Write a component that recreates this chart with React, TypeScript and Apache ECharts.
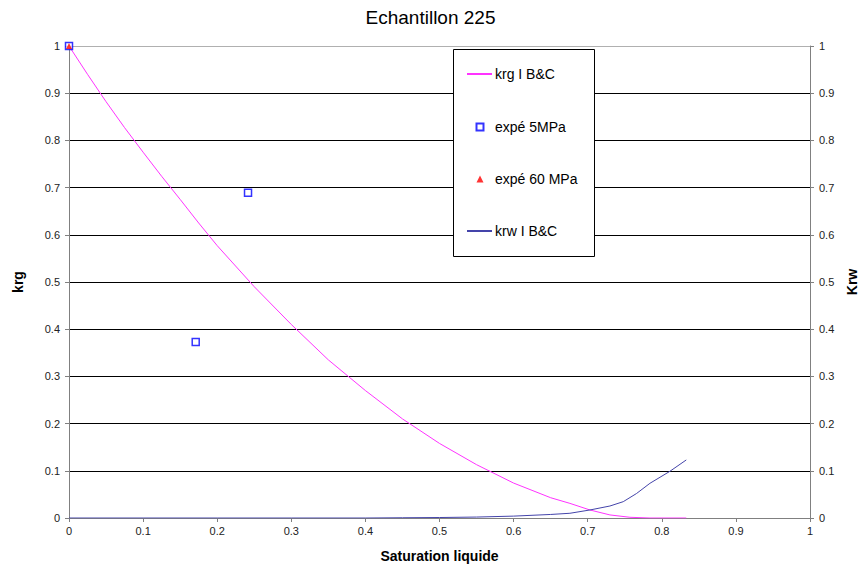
import React, { useEffect, useRef } from "react";
import * as echarts from "echarts";

const titleText = "Echantillon 225";
const xName = "Saturation liquide";
const leftName = "krg";
const rightName = "Krw";

const krgX = [0, 0.025, 0.05, 0.075, 0.1, 0.125, 0.15, 0.175, 0.2, 0.25, 0.3, 0.35, 0.4, 0.45, 0.5, 0.55, 0.6, 0.65, 0.676, 0.703, 0.73, 0.757, 0.784, 0.833];
const krgY = [1, 0.94, 0.882, 0.827, 0.775, 0.724, 0.675, 0.625, 0.577, 0.49, 0.41, 0.335, 0.27, 0.21, 0.158, 0.113, 0.074, 0.043, 0.031, 0.017, 0.0065, 0.0015, 0, 0];

const krwX = [0, 0.1, 0.2, 0.3, 0.4, 0.45, 0.5, 0.55, 0.6, 0.65, 0.676, 0.703, 0.73, 0.748, 0.766, 0.784, 0.811, 0.833];
const krwY = [0, 0, 0, 0, 0, 0.0005, 0.001, 0.002, 0.004, 0.0075, 0.01, 0.017, 0.0254, 0.0346, 0.052, 0.0735, 0.099, 0.123];

const exp5X = [0, 0.171, 0.2416];
const exp5Y = [1, 0.373, 0.689];

const exp60X = [0];
const exp60Y = [1];

const seriesNames = ["krg I B&C", "expé 5MPa", "expé 60 MPa", "krw I B&C"];

const font = "Liberation Sans, Arial, sans-serif";

const zip = (xs: number[], ys: number[]) => xs.map((x, i) => [x, ys[i]]);

export default function App() {
  const ref = useRef<HTMLDivElement>(null);
  useEffect(() => {
    if (!ref.current) return;
    const chart = echarts.init(ref.current, null, { renderer: "svg" });
    const gridColors = ["#000", "#000", "#000", "#000", "#000", "#000", "#000", "#000", "#000", "#000", "#b0b0b0"];
    const legendText = { fontFamily: font, fontSize: 14, color: "#000", lineHeight: 16 };
    chart.setOption({
      animation: false,
      backgroundColor: "#fff",
      textStyle: { fontFamily: font },
      title: {
        text: titleText,
        left: "center",
        top: 8,
        padding: 0,
        textStyle: { fontFamily: font, fontSize: 19, fontWeight: "normal", color: "#000" },
      },
      grid: { left: 69, right: 51, top: 46, bottom: 51, containLabel: false, outerBoundsMode: "none" },
      graphic: [
        {
          type: "rect",
          z: 1,
          shape: { x: 453.5, y: 49.5, width: 141, height: 207 },
          style: { fill: "#fff", stroke: "#000", lineWidth: 1 },
        },
      ],
      legend: [
        {
          orient: "vertical",
          left: 466,
          top: 66,
          padding: 0,
          itemWidth: 25,
          itemHeight: 7,
          itemGap: 141,
          z: 5,
          data: [
            { name: seriesNames[0], itemStyle: { opacity: 0 } },
            { name: seriesNames[3], itemStyle: { opacity: 0 } },
          ],
          textStyle: { ...legendText, padding: [0, 0, 0, -2] },
        },
        {
          orient: "vertical",
          left: 475.5,
          top: 119,
          padding: 0,
          itemWidth: 7,
          itemHeight: 7,
          itemGap: 36,
          z: 5,
          data: [{ name: seriesNames[1] }, { name: seriesNames[2] }],
          textStyle: { ...legendText, padding: [0, 0, 0, 6.5] },
        },
      ],
      xAxis: {
        type: "value",
        min: 0,
        max: 1,
        interval: 0.1,
        name: xName,
        nameLocation: "middle",
        nameGap: 31,
        nameTextStyle: { fontFamily: font, fontSize: 14, fontWeight: "bold", color: "#000" },
        axisLine: { onZero: false, lineStyle: { color: "#808080", width: 1 } },
        axisTick: { show: true, length: 4, lineStyle: { color: "#808080" } },
        axisLabel: { fontFamily: font, fontSize: 11, color: "#222", margin: 7 },
        splitLine: { show: false },
      },
      yAxis: [
        {
          type: "value",
          min: 0,
          max: 1,
          interval: 0.1,
          name: leftName,
          nameLocation: "middle",
          nameGap: 44,
          nameRotate: 90,
          nameTextStyle: { fontFamily: font, fontSize: 14, fontWeight: "bold", color: "#000" },
          axisLine: { show: true, lineStyle: { color: "#808080", width: 1 } },
          axisTick: { show: true, length: 4, lineStyle: { color: "#808080" } },
          axisLabel: { fontFamily: font, fontSize: 11, color: "#222", margin: 9 },
          splitLine: { show: true, lineStyle: { color: gridColors, width: 1 } },
        },
        {
          type: "value",
          min: 0,
          max: 1,
          interval: 0.1,
          position: "right",
          name: rightName,
          nameLocation: "middle",
          nameGap: 35,
          nameRotate: 90,
          nameTextStyle: { fontFamily: font, fontSize: 14, fontWeight: "bold", color: "#000" },
          axisLine: { show: true, lineStyle: { color: "#808080", width: 1 } },
          axisTick: { show: true, length: 4, lineStyle: { color: "#808080" } },
          axisLabel: { fontFamily: font, fontSize: 11, color: "#222", margin: 9 },
          splitLine: { show: false },
        },
      ],
      series: [
        {
          name: seriesNames[0],
          type: "line",
          yAxisIndex: 0,
          data: zip(krgX, krgY),
          symbol: "none",
          smooth: false,
          lineStyle: { color: "#ff33ff", width: 1 },
          itemStyle: { color: "#ff66ff" },
          z: 3,
        },
        {
          name: seriesNames[1],
          type: "scatter",
          yAxisIndex: 0,
          data: zip(exp5X, exp5Y),
          symbol: "rect",
          symbolSize: 7,
          itemStyle: { color: "#fff", borderColor: "#0000ff", borderWidth: 1.5 },
          z: 4,
        },
        {
          name: seriesNames[2],
          type: "scatter",
          yAxisIndex: 0,
          data: zip(exp60X, exp60Y),
          symbol: "triangle",
          symbolSize: 6,
          itemStyle: { color: "#ff0000" },
          z: 5,
        },
        {
          name: seriesNames[3],
          type: "line",
          yAxisIndex: 1,
          data: zip(krwX, krwY),
          symbol: "none",
          smooth: false,
          lineStyle: { color: "#4444aa", width: 1 },
          itemStyle: { color: "#8888cc" },
          z: 3,
        },
      ],
    });
    return () => chart.dispose();
  }, []);
  return (
    <div
      ref={ref}
      style={{ position: "absolute", left: 0, top: 0, width: 861, height: 569 }}
    />
  );
}
